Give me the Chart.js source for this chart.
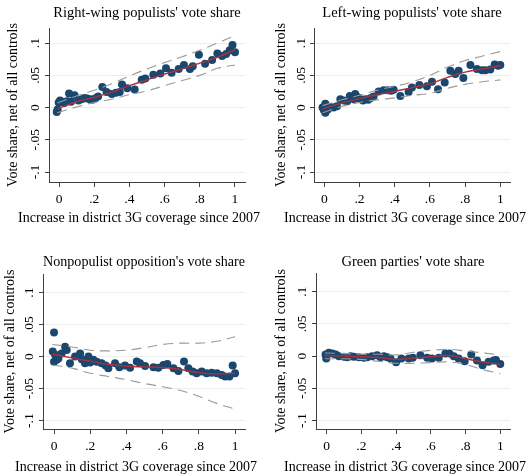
<!DOCTYPE html>
<html>
<head>
<meta charset="utf-8">
<script src="https://cdn.jsdelivr.net/npm/chart.js@4"></script>
<style>
  html, body { margin: 0; padding: 0; background: #fff; }
  #wrap { position: relative; width: 528px; height: 474px; overflow: hidden; }
  .panel { position: absolute; width: 264px; height: 237px; }
</style>
</head>
<body>
<div id="wrap">
  <div class="panel" style="left:0;top:0"><canvas id="chartRight" width="264" height="237"></canvas></div>
  <div class="panel" style="left:264px;top:0"><canvas id="chartLeft" width="264" height="237"></canvas></div>
  <div class="panel" style="left:0;top:237px"><canvas id="chartNonpop" width="264" height="237"></canvas></div>
  <div class="panel" style="left:264px;top:237px"><canvas id="chartGreen" width="264" height="237"></canvas></div>
</div>
<script>
const xTicks = [0, 0.2, 0.4, 0.6, 0.8, 1];
const yTicks = [-0.1, -0.05, 0, 0.05, 0.1];

// x grid shared by the fitted curve and its confidence band
const curveX = [-0.01, 0.1, 0.2, 0.3, 0.4, 0.5, 0.6, 0.7, 0.8, 0.9, 1.0];

// Right-wing populists
const rightBinX = [-0.013, -0.008, -0.002, 0.006, 0.015, 0.03, 0.045, 0.057, 0.068, 0.088,
  0.11, 0.128, 0.145, 0.16, 0.176, 0.19, 0.205, 0.222, 0.246, 0.27,
  0.3, 0.324, 0.345, 0.358, 0.388, 0.43, 0.47, 0.49, 0.536, 0.576,
  0.608, 0.64, 0.68, 0.71, 0.744, 0.76, 0.795, 0.83, 0.87, 0.9,
  0.927, 0.95, 0.97, 0.986, 1.0];
const rightBinY = [-0.007, -0.003, 0.008, 0.011, 0.009, 0.007, 0.010, 0.022, 0.009, 0.019,
  0.011, 0.013, 0.015, 0.014, 0.013, 0.012, 0.014, 0.017, 0.032, 0.024,
  0.021, 0.023, 0.024, 0.036, 0.030, 0.028, 0.043, 0.045, 0.051, 0.053,
  0.061, 0.054, 0.060, 0.066, 0.060, 0.064, 0.082, 0.068, 0.074, 0.084,
  0.080, 0.083, 0.089, 0.097, 0.086];
const rightFit = [-0.002, 0.009, 0.016, 0.024, 0.034, 0.043, 0.052, 0.060, 0.069, 0.078, 0.090];
const rightUpper = [0.007, 0.018, 0.027, 0.037, 0.049, 0.060, 0.070, 0.079, 0.089, 0.100, 0.112];
const rightLower = [-0.008, 0.001, 0.008, 0.013, 0.020, 0.026, 0.034, 0.042, 0.050, 0.061, 0.066];

// Left-wing populists
const leftBinX = [-0.01, -0.002, 0.006, 0.006, 0.02, 0.034, 0.053, 0.072, 0.091, 0.11,
  0.13, 0.145, 0.167, 0.176, 0.19, 0.205, 0.22, 0.233, 0.25, 0.261,
  0.28, 0.309, 0.337, 0.362, 0.38, 0.394, 0.432, 0.479, 0.498, 0.54,
  0.583, 0.612, 0.646, 0.684, 0.716, 0.744, 0.763, 0.79, 0.83, 0.867,
  0.896, 0.915, 0.943, 0.968, 0.987, 1.0];
const leftBinY = [0.0, -0.004, 0.006, -0.008, -0.003, 0.001, 0.0, 0.002, 0.013, 0.011,
  0.010, 0.018, 0.013, 0.021, 0.016, 0.013, 0.011, 0.013, 0.012, 0.0145,
  0.017, 0.025, 0.027, 0.027, 0.026, 0.0275, 0.018, 0.024, 0.031, 0.035,
  0.033, 0.040, 0.0285, 0.039, 0.057, 0.052, 0.057, 0.046, 0.066, 0.060,
  0.058, 0.058, 0.059, 0.067, 0.065, 0.066];
const leftFit = [-0.002, 0.007, 0.014, 0.020, 0.025, 0.031, 0.037, 0.047, 0.055, 0.060, 0.065];
const leftUpper = [0.003, 0.012, 0.019, 0.027, 0.033, 0.040, 0.050, 0.063, 0.073, 0.080, 0.087];
const leftLower = [-0.008, 0.002, 0.008, 0.012, 0.015, 0.019, 0.022, 0.030, 0.036, 0.040, 0.043];

// Nonpopulist opposition
const nonpopBinX = [-0.007, 0.0, 0.006, 0.0, 0.015, 0.024, 0.042, 0.061, 0.07, 0.088,
  0.116, 0.144, 0.153, 0.171, 0.19, 0.2, 0.217, 0.236, 0.263, 0.285,
  0.3, 0.337, 0.361, 0.392, 0.42, 0.457, 0.475, 0.503, 0.549, 0.576,
  0.604, 0.626, 0.66, 0.687, 0.718, 0.742, 0.766, 0.788, 0.816, 0.843,
  0.871, 0.9, 0.926, 0.945, 0.969, 0.987, 1.0];
const nonpopBinY = [0.008, 0.0375, 0.003, -0.008, -0.005, -0.003, 0.005, 0.0156, 0.0104, -0.0104,
  0.0, 0.005, -0.004, -0.0104, 0.0, -0.009, -0.005, -0.008, -0.0104, -0.014,
  -0.018, -0.0104, -0.0167, -0.014, -0.0172, -0.0078, -0.0104, -0.0146, -0.0167, -0.0172,
  -0.013, -0.0115, -0.018, -0.0224, -0.0078, -0.018, -0.0234, -0.026, -0.0234, -0.026,
  -0.025, -0.026, -0.0286, -0.031, -0.031, -0.014, -0.026];
const nonpopFit = [0.004, -0.002, -0.007, -0.012, -0.015, -0.016, -0.017, -0.020, -0.025, -0.027, -0.026];
const nonpopUpper = [0.019, 0.015, 0.010, 0.009, 0.010, 0.014, 0.019, 0.021, 0.021, 0.024, 0.031];
const nonpopLower = [-0.013, -0.018, -0.026, -0.031, -0.036, -0.042, -0.047, -0.053, -0.062, -0.073, -0.082];

// Green parties
const greenBinX = [-0.006, -0.002, 0.013, 0.033, 0.052, 0.071, 0.1, 0.119, 0.138, 0.157,
  0.186, 0.215, 0.234, 0.262, 0.291, 0.31, 0.33, 0.349, 0.368, 0.4,
  0.431, 0.473, 0.496, 0.54, 0.579, 0.607, 0.646, 0.684, 0.707, 0.732,
  0.76, 0.795, 0.833, 0.866, 0.898, 0.933, 0.962, 0.975, 1.0];
const greenBinY = [0.0026, -0.0036, 0.0052, 0.0042, 0.0026, 0.0, -0.001, -0.0016, 0.0, -0.001,
  -0.0016, -0.0026, -0.0016, 0.0, 0.0016, -0.0016, 0.0, -0.0016, -0.0036, -0.0095,
  -0.0036, -0.0036, -0.0026, 0.0016, -0.0026, -0.0036, -0.0026, 0.0042, 0.0042, 0.0,
  -0.0036, -0.0078, 0.0026, -0.0068, -0.014, -0.0088, -0.0068, -0.006, -0.012];
const greenFit = [0.001, 0.0, -0.001, -0.002, -0.005, -0.003, -0.001, 0.001, -0.004, -0.009, -0.013];
const greenUpper = [0.005, 0.004, 0.003, 0.003, 0.002, 0.006, 0.009, 0.0105, 0.008, 0.005, 0.002];
const greenLower = [-0.004, -0.004, -0.005, -0.008, -0.011, -0.011, -0.010, -0.009, -0.013, -0.021, -0.027];

const FONT = 'Liberation Serif';
const NAVY = '#1a476f';
const FIT_RED = '#a8343a';
const BAND_GRAY = '#9a9a9a';
const GRID = '#e6eef0';
const AXIS = '#404040';
const W = 264, H = 237;

const Y_TITLE = 'Vote share, net of all controls';
const X_TITLE = 'Increase in district 3G coverage since 2007';

function tickText(v) {
  if (v === 0) return '0';
  return String(Math.round(v * 100) / 100).replace(/^(-?)0\./, '$1.');
}

const toPoints = (xs, ys) => xs.map((x, i) => ({ x, y: ys[i] }));

function curve(ys, color, dash, width) {
  return {
    data: toPoints(curveX, ys), showLine: true, borderColor: color, borderWidth: width,
    borderDash: dash, pointRadius: 0, tension: 0.4, fill: false, order: 0,
  };
}

// x-axis caption, centred on its own anchor rather than on the plot area
const xCaption = {
  id: 'xCaption',
  afterDraw(chart, args, opts) {
    const { ctx } = chart;
    ctx.save();
    ctx.font = `${opts.size}px "${FONT}"`;
    ctx.fillStyle = '#000';
    ctx.textAlign = 'center';
    ctx.textBaseline = 'middle';
    ctx.fillText(opts.text, opts.x, opts.y);
    ctx.restore();
  },
};

function buildPanel(id, title, binX, binY, fit, upper, lower, f) {
  const titleSize = 14.5, axisSize = 14, tickSize = 13.5;
  const titleLh = titleSize * 1.2, axisLh = axisSize * 1.2;
  return new Chart(document.getElementById(id), {
    type: 'scatter',
    data: {
      datasets: [
        curve(fit, FIT_RED, [], 1.4),
        curve(upper, BAND_GRAY, [10, 6], 1.1),
        curve(lower, BAND_GRAY, [10, 6], 1.1),
        { data: toPoints(binX, binY), backgroundColor: NAVY, borderWidth: 0, pointRadius: 4, pointHoverRadius: 4, order: 1 },
      ],
    },
    options: {
      responsive: false,
      animation: false,
      events: [],
      layout: { padding: { left: 0, top: 0, right: W - f.r, bottom: 0 } },
      plugins: {
        legend: { display: false },
        tooltip: { enabled: false },
        title: {
          display: true, text: title, fullSize: false, color: '#000',
          font: { family: FONT, size: titleSize, weight: 'normal' },
          padding: { top: f.titleY - titleLh / 2, bottom: f.t - f.titleY - titleLh / 2 },
        },
        xCaption: { text: X_TITLE, x: f.xTitleX, y: f.xTitleY, size: axisSize },
      },
      scales: {
        x: {
          type: 'linear', min: f.xMin, max: f.xMax,
          afterBuildTicks: (s) => { s.ticks = xTicks.map((value) => ({ value })); },
          afterFit: (s) => { s.height = H - f.b; },
          border: { display: true, color: AXIS, width: 1 },
          grid: { drawOnChartArea: false, drawTicks: true, tickLength: 5, tickColor: AXIS },
          ticks: { callback: tickText, color: '#000', font: { family: FONT, size: tickSize }, padding: 4, maxRotation: 0, autoSkip: false },
        },
        y: {
          type: 'linear', min: f.yMin, max: f.yMax,
          afterBuildTicks: (s) => { s.ticks = yTicks.map((value) => ({ value })); },
          afterFit: (s) => { s.width = f.l; },
          border: { display: true, color: AXIS, width: 1 },
          grid: { color: GRID, lineWidth: 1, drawTicks: true, tickLength: 4, tickColor: AXIS },
          ticks: {
            callback: tickText, color: '#000', font: { family: FONT, size: tickSize },
            minRotation: 90, maxRotation: 90, crossAlign: 'center',
            padding: f.l - f.yTickX - 4 - 10.7, autoSkip: false,
          },
          title: {
            display: true, text: Y_TITLE, color: '#000',
            font: { family: FONT, size: axisSize },
            padding: { top: f.yTitleX - axisLh / 2, bottom: 0 },
          },
        },
      },
    },
    plugins: [xCaption],
  });
}

const topFrame = { t: 28, b: 182, yMin: -0.1155, yMax: 0.1235, titleY: 13, xTitleY: 218 };
const bottomFrame = { t: 37, b: 192, yMin: -0.113, yMax: 0.129, titleY: 25, xTitleY: 230 };

buildPanel('chartRight', "Right-wing populists' vote share", rightBinX, rightBinY, rightFit, rightUpper, rightLower,
  { ...topFrame, l: 49, r: 245, xMin: -0.057, xMax: 1.057, yTitleX: 13, yTickX: 35, xTitleX: 139 });
buildPanel('chartLeft', "Left-wing populists' vote share", leftBinX, leftBinY, leftFit, leftUpper, leftLower,
  { ...topFrame, l: 50, r: 246, xMin: -0.0585, xMax: 1.055, yTitleX: 17, yTickX: 37, xTitleX: 141 });
buildPanel('chartNonpop', "Nonpopulist opposition's vote share", nonpopBinX, nonpopBinY, nonpopFit, nonpopUpper, nonpopLower,
  { ...bottomFrame, l: 43, r: 245, xMin: -0.061, xMax: 1.055, yTitleX: 10, yTickX: 29, xTitleX: 136 });
buildPanel('chartGreen', "Green parties' vote share", greenBinX, greenBinY, greenFit, greenUpper, greenLower,
  { ...bottomFrame, t: 36, l: 52, r: 246, xMin: -0.061, xMax: 1.056, yTitleX: 17, yTickX: 38.5, xTitleX: 141 });
</script>
</body>
</html>
